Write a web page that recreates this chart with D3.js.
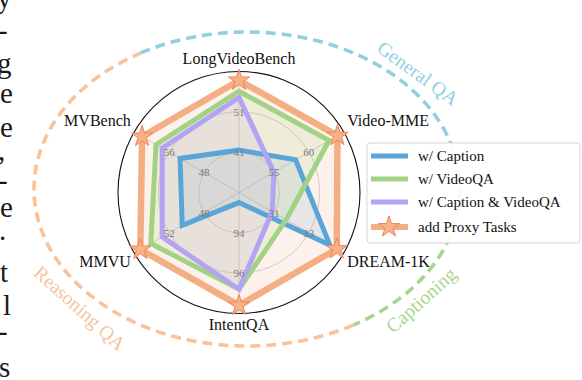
<!DOCTYPE html>
<html>
<head>
<meta charset="utf-8">
<script src="https://cdn.jsdelivr.net/npm/d3@7"></script>
<style>
  body { margin: 0; background: #fff; }
  svg { display: block; }
</style>
</head>
<body>
<div id="radar"></div>
<script>
// axes of the radar, clockwise from the top
var axisNames = ["LongVideoBench", "Video-MME", "DREAM-1K", "IntentQA", "MMVU", "MVBench"];
var axisMin = [31, 50, 29, 92, 44, 40];
var axisMax = [61, 65, 35, 98, 56, 64];
var tickLabels = [[41, 51], [55, 60], [31, 33], [94, 96], [48, 52], [48, 56]];

// series values, same order as axisNames
var seriesNames = ["w/ Caption", "w/ VideoQA", "w/ Caption & VideoQA", "add Proxy Tasks"];
var caption        = [41.5, 58.1, 34.2, 92.5, 50.5, 53.5];
var videoQA        = [56.1, 62.9, 31.7, 96.8, 54.1, 59.0];
var captionVideoQA = [54.6, 55.0, 30.9, 96.8, 52.8, 57.6];
var proxyTasks     = [58.8, 64.1, 34.6, 97.6, 55.3, 62.2];

// task groups drawn as dashed arcs round the radar (angles in degrees)
var groupNames = ["General QA", "Captioning", "Reasoning QA"];
var groupFrom = [120, 0, -60];
var groupTo = [0, -60, -240];

var width = 582, height = 380;
var cx = 239, cy = 192.5, R = 121;
var font = "'Liberation Serif', 'Times New Roman', serif";
var colors = ["#5aa5d8", "#a2d385", "#b3a3f3", "#f4ae84"];
var allSeries = [caption, videoQA, captionVideoQA, proxyTasks];

var svg = d3.select("#radar").append("svg")
    .attr("width", width)
    .attr("height", height);

// bits of the paper's text cut off at the left edge
var edgeChars = ["y", "-", "g", "e", "e", ",", "-", "e", ".", "t", "l", "-", "s"];
var edgeY = [8, 40, 73, 103, 137, 160, 190, 217, 240, 282, 315, 341, 377];
var edgeX = [-3, -2, -3, 0, 0, -2, -2, 0, -1, 0, 3, -2, -1];
svg.selectAll("text.edge")
    .data(edgeChars)
    .enter().append("text")
    .attr("class", "edge")
    .attr("x", function(d, i) { return edgeX[i]; })
    .attr("y", function(d, i) { return edgeY[i]; })
    .attr("font-family", font)
    .attr("font-size", 29)
    .attr("fill", "#1a1a1a")
    .text(function(d) { return d; });

// dashed ellipse arcs
var ell = {cx: 247, cy: 189, rx: 213, ry: 157};
var groupColors = ["#92d0e0", "#a9d68e", "#f8c39c"];
var arcLine = d3.line();
groupNames.forEach(function(name, g) {
  var pts = d3.range(0, 101).map(function(k) {
    var t = (groupFrom[g] + (groupTo[g] - groupFrom[g]) * k / 100) * Math.PI / 180;
    return [ell.cx + ell.rx * Math.cos(t), ell.cy - ell.ry * Math.sin(t)];
  });
  svg.append("path")
      .attr("d", arcLine(pts))
      .attr("fill", "none")
      .attr("stroke", groupColors[g])
      .attr("stroke-width", 3.6)
      .attr("stroke-dasharray", "10,6");
});

var groupLabelPos = [[418, 73, 36], [421, 300, -42], [80, 308, 42]];
groupNames.forEach(function(name, g) {
  svg.append("text")
      .attr("transform", "translate(" + groupLabelPos[g][0] + "," + groupLabelPos[g][1] + ") rotate(" + groupLabelPos[g][2] + ")")
      .attr("text-anchor", "middle")
      .attr("dy", "0.35em")
      .attr("font-family", font)
      .attr("font-size", 19.5)
      .attr("fill", groupColors[g])
      .text(name);
});

var radar = svg.append("g")
    .attr("transform", "translate(" + cx + "," + cy + ")");

var n = axisNames.length;
var angle = function(i) { return i * 2 * Math.PI / n; };
var rScales = axisNames.map(function(a, i) {
  return d3.scaleLinear().domain([axisMin[i], axisMax[i]]).range([0, R]);
});

// grid rings and spokes
[R / 3, 2 * R / 3].forEach(function(r) {
  radar.append("circle")
      .attr("r", r)
      .attr("fill", "none")
      .attr("stroke", "#c4c4c4")
      .attr("stroke-width", 0.8);
});
radar.selectAll("line.spoke")
    .data(axisNames)
    .enter().append("line")
    .attr("class", "spoke")
    .attr("x1", 0).attr("y1", 0)
    .attr("x2", function(d, i) { return R * Math.sin(angle(i)); })
    .attr("y2", function(d, i) { return -R * Math.cos(angle(i)); })
    .attr("stroke", "#c4c4c4")
    .attr("stroke-width", 0.8);

var radarLine = d3.lineRadial()
    .angle(function(d, i) { return angle(i); })
    .radius(function(d, i) { return rScales[i](d); })
    .curve(d3.curveLinearClosed);

allSeries.forEach(function(vals, s) {
  radar.append("path")
      .datum(vals)
      .attr("d", radarLine)
      .attr("fill", colors[s])
      .attr("fill-opacity", 0.16)
      .attr("stroke", "none");
});
allSeries.forEach(function(vals, s) {
  radar.append("path")
      .datum(vals)
      .attr("d", radarLine)
      .attr("fill", "none")
      .attr("stroke", colors[s])
      .attr("stroke-width", s == 3 ? 6.5 : 5)
      .attr("stroke-linejoin", "miter");
});

// outer frame
radar.append("circle")
    .attr("r", R)
    .attr("fill", "none")
    .attr("stroke", "#111")
    .attr("stroke-width", 1.1);

// stars on the proxy tasks series
var star = d3.symbol().type(d3.symbolStar).size(140);
radar.selectAll("path.star")
    .data(proxyTasks)
    .enter().append("path")
    .attr("class", "star")
    .attr("d", star)
    .attr("transform", function(d, i) {
      var r = rScales[i](d);
      return "translate(" + (r * Math.sin(angle(i))) + "," + (-r * Math.cos(angle(i))) + ")";
    })
    .attr("fill", "#f7b18b")
    .attr("stroke", "#ee8753")
    .attr("stroke-width", 1);

// radial tick labels
axisNames.forEach(function(a, i) {
  radar.selectAll("text.tick" + i)
      .data(tickLabels[i])
      .enter().append("text")
      .attr("x", function(d) { return rScales[i](d) * Math.sin(angle(i)); })
      .attr("y", function(d) { return -rScales[i](d) * Math.cos(angle(i)); })
      .attr("dy", "0.35em")
      .attr("text-anchor", "middle")
      .attr("font-family", font)
      .attr("font-size", 11)
      .attr("fill", "#7a7a7a")
      .text(function(d) { return d; });
});

// axis names
var rLabel = 125;
radar.selectAll("text.axis")
    .data(axisNames)
    .enter().append("text")
    .attr("class", "axis")
    .attr("x", function(d, i) { return rLabel * Math.sin(angle(i)); })
    .attr("y", function(d, i) { return -rLabel * Math.cos(angle(i)); })
    .attr("dy", function(d, i) {
      var c = Math.cos(angle(i));
      return c > 0.1 ? "-0.25em" : (c < -0.1 ? "0.75em" : "0.35em");
    })
    .attr("text-anchor", function(d, i) {
      var s = Math.sin(angle(i));
      return s > 0.1 ? "start" : (s < -0.1 ? "end" : "middle");
    })
    .attr("font-family", font)
    .attr("font-size", 16)
    .attr("fill", "#111")
    .text(function(d) { return d; });

// legend
var legend = svg.append("g").attr("transform", "translate(367,143)");
legend.append("rect")
    .attr("width", 213).attr("height", 100)
    .attr("rx", 3)
    .attr("fill", "#fff")
    .attr("fill-opacity", 0.92)
    .attr("stroke", "#d6d6d6")
    .attr("stroke-width", 1);
var rowY = [13, 36, 59, 84];
seriesNames.forEach(function(name, s) {
  legend.append("line")
      .attr("x1", 4).attr("x2", 41)
      .attr("y1", rowY[s]).attr("y2", rowY[s])
      .attr("stroke", colors[s])
      .attr("stroke-width", s == 3 ? 6 : 5);
  legend.append("text")
      .attr("x", 51).attr("y", rowY[s])
      .attr("dy", "0.35em")
      .attr("font-family", font)
      .attr("font-size", 15)
      .attr("fill", "#111")
      .text(name);
});
legend.append("path")
    .attr("d", star)
    .attr("transform", "translate(22," + rowY[3] + ")")
    .attr("fill", "#f7b18b")
    .attr("stroke", "#ee8753")
    .attr("stroke-width", 1);
</script>
</body>
</html>
